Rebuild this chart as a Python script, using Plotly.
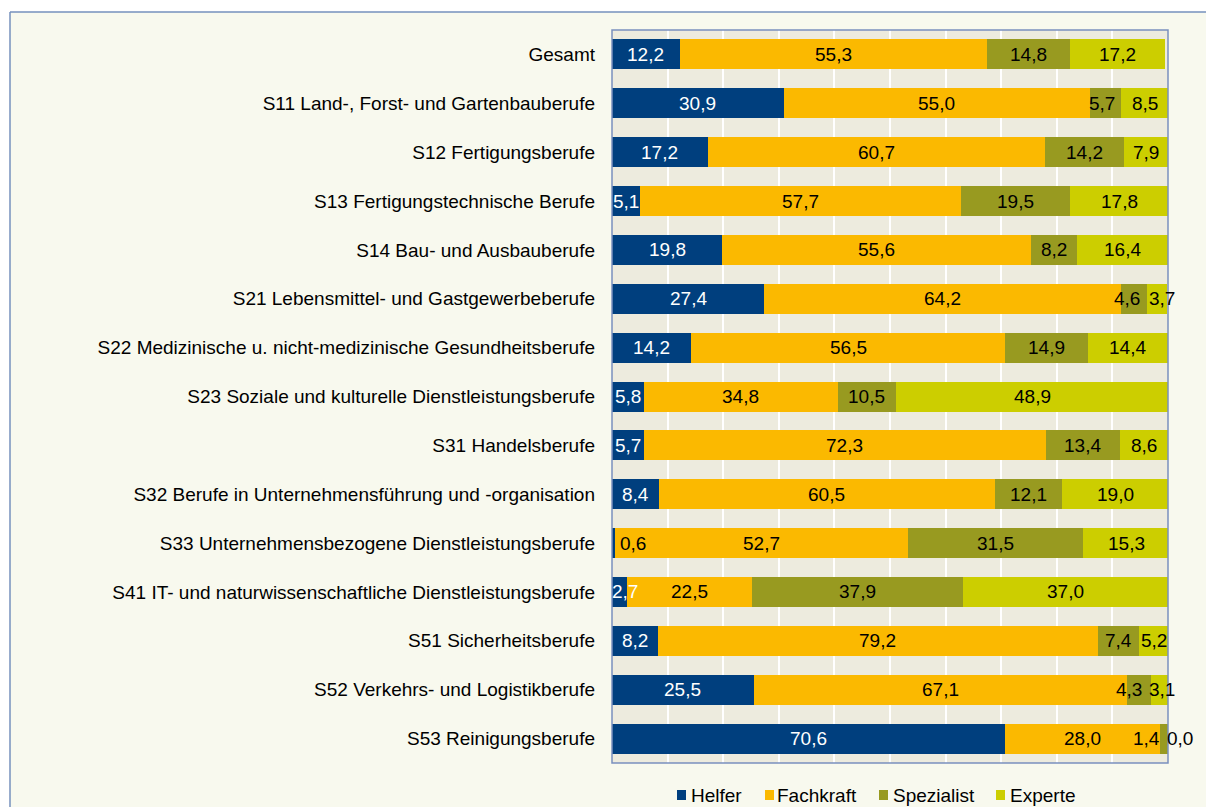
import plotly.graph_objects as go

categories = [
    "Gesamt",
    "S11 Land-, Forst- und Gartenbauberufe",
    "S12 Fertigungsberufe",
    "S13 Fertigungstechnische Berufe",
    "S14 Bau- und Ausbauberufe",
    "S21 Lebensmittel- und Gastgewerbeberufe",
    "S22 Medizinische u. nicht-medizinische Gesundheitsberufe",
    "S23 Soziale und kulturelle Dienstleistungsberufe",
    "S31 Handelsberufe",
    "S32 Berufe in Unternehmensführung und -organisation",
    "S33 Unternehmensbezogene Dienstleistungsberufe",
    "S41 IT- und naturwissenschaftliche Dienstleistungsberufe",
    "S51 Sicherheitsberufe",
    "S52 Verkehrs- und Logistikberufe",
    "S53 Reinigungsberufe",
]
helfer = [12.2, 30.9, 17.2, 5.1, 19.8, 27.4, 14.2, 5.8, 5.7, 8.4, 0.6, 2.7, 8.2, 25.5, 70.6]
fachkraft = [55.3, 55.0, 60.7, 57.7, 55.6, 64.2, 56.5, 34.8, 72.3, 60.5, 52.7, 22.5, 79.2, 67.1, 28.0]
spezialist = [14.8, 5.7, 14.2, 19.5, 8.2, 4.6, 14.9, 10.5, 13.4, 12.1, 31.5, 37.9, 7.4, 4.3, 1.4]
experte = [17.2, 8.5, 7.9, 17.8, 16.4, 3.7, 14.4, 48.9, 8.6, 19.0, 15.3, 37.0, 5.2, 3.1, 0.0]

series_names = ["Helfer", "Fachkraft", "Spezialist", "Experte"]
series_values = [helfer, fachkraft, spezialist, experte]
colors = ["#003F7E", "#FBB900", "#989A20", "#CCCE00"]
label_colors = ["white", "black", "black", "black"]

# label nudges (pixel shifts) for crowded small segments: (row, series) -> (xshift, color)
label_nudge = {
    (10, 0): (19, "black"),
    (11, 0): (5, None),
    (5, 2): (-7, None),
    (5, 3): (5, None),
    (13, 2): (-10, None),
    (13, 3): (3, None),
    (14, 2): (-18, None),
    (14, 3): (12, None),
    (1, 2): (-3, None),
}

FONT = "Liberation Sans, Arial, sans-serif"
W, H = 1206, 807
L, R, T, B = 612, 38, 30, 44
pw, ph = W - L - R, H - T - B


def px_to_paper_x(px):
    return (px - L) / pw


def px_to_paper_y(py):
    return (H - B - py) / ph


fig = go.Figure()
for name, vals, col in zip(series_names, series_values, colors):
    fig.add_trace(go.Bar(
        y=categories, x=vals, name=name, orientation="h",
        marker=dict(color=col, line=dict(width=0)),
        hoverinfo="x+y+name", showlegend=False,
    ))

annotations = []
for j, cat in enumerate(categories):
    start = 0.0
    for i, vals in enumerate(series_values):
        v = vals[j]
        xc = min(start + v / 2, 100)
        shift, col = label_nudge.get((j, i), (0, None))
        annotations.append(dict(
            x=xc, y=cat, xref="x", yref="y",
            text=f"{v:.1f}".replace(".", ","),
            showarrow=False, xshift=shift,
            font=dict(family=FONT, size=19, color=col or label_colors[i]),
        ))
        start += v

shapes = [
    # white margin strips outside the outer frame
    dict(type="rect", xref="paper", yref="paper", layer="above",
         x0=px_to_paper_x(-5), x1=px_to_paper_x(10), y0=px_to_paper_y(H + 5), y1=px_to_paper_y(-5),
         fillcolor="white", line=dict(width=0)),
    dict(type="rect", xref="paper", yref="paper", layer="above",
         x0=px_to_paper_x(-5), x1=px_to_paper_x(W + 5), y0=px_to_paper_y(12), y1=px_to_paper_y(-5),
         fillcolor="white", line=dict(width=0)),
    # outer frame lines
    dict(type="line", xref="paper", yref="paper", layer="above",
         x0=px_to_paper_x(10), x1=px_to_paper_x(10), y0=px_to_paper_y(H + 5), y1=px_to_paper_y(12),
         line=dict(color="#7690BC", width=1.5)),
    dict(type="line", xref="paper", yref="paper", layer="above",
         x0=px_to_paper_x(10), x1=px_to_paper_x(W + 5), y0=px_to_paper_y(12), y1=px_to_paper_y(12),
         line=dict(color="#7690BC", width=1.5)),
    # plot area border
    dict(type="rect", xref="paper", yref="paper", layer="above",
         x0=0, x1=1, y0=0, y1=1, line=dict(color="#7A90BE", width=1.5)),
]

# manual legend (square swatch + label), positions in pixels
legend_square_x = [677, 765, 879, 996]
legend_text_x = [689, 775, 891, 1008]
legend_y = 795
for name, col, sx, tx in zip(series_names, colors, legend_square_x, legend_text_x):
    shapes.append(dict(type="rect", xref="paper", yref="paper", layer="above",
                       x0=px_to_paper_x(sx), x1=px_to_paper_x(sx + 9),
                       y0=px_to_paper_y(legend_y + 5), y1=px_to_paper_y(legend_y - 5),
                       fillcolor=col, line=dict(width=0)))
    annotations.append(dict(x=px_to_paper_x(tx), y=px_to_paper_y(legend_y), xref="paper", yref="paper",
                            xanchor="left", yanchor="middle", text=name, showarrow=False,
                            font=dict(family=FONT, size=19, color="black")))

fig.update_layout(
    width=W, height=H,
    margin=dict(l=L, r=R, t=T, b=B, pad=0),
    barmode="stack",
    bargap=0.386,
    paper_bgcolor="#F8F9EE",
    plot_bgcolor="#EDEBDE",
    font=dict(family=FONT, size=19, color="black"),
    xaxis=dict(range=[0, 100], dtick=10, showgrid=True, gridcolor="white", gridwidth=2,
               showticklabels=False, zeroline=False, showline=False, fixedrange=True),
    yaxis=dict(autorange="reversed", showgrid=False, zeroline=False, showline=False,
               ticks="", ticklabelstandoff=16, tickfont=dict(family=FONT, size=19, color="black")),
    showlegend=False,
    annotations=annotations,
    shapes=shapes,
)

fig.write_html(
    "out.html",
    config={"displayModeBar": False},
    post_script="document.body.style.margin='0';document.body.style.overflow='hidden';",
)
